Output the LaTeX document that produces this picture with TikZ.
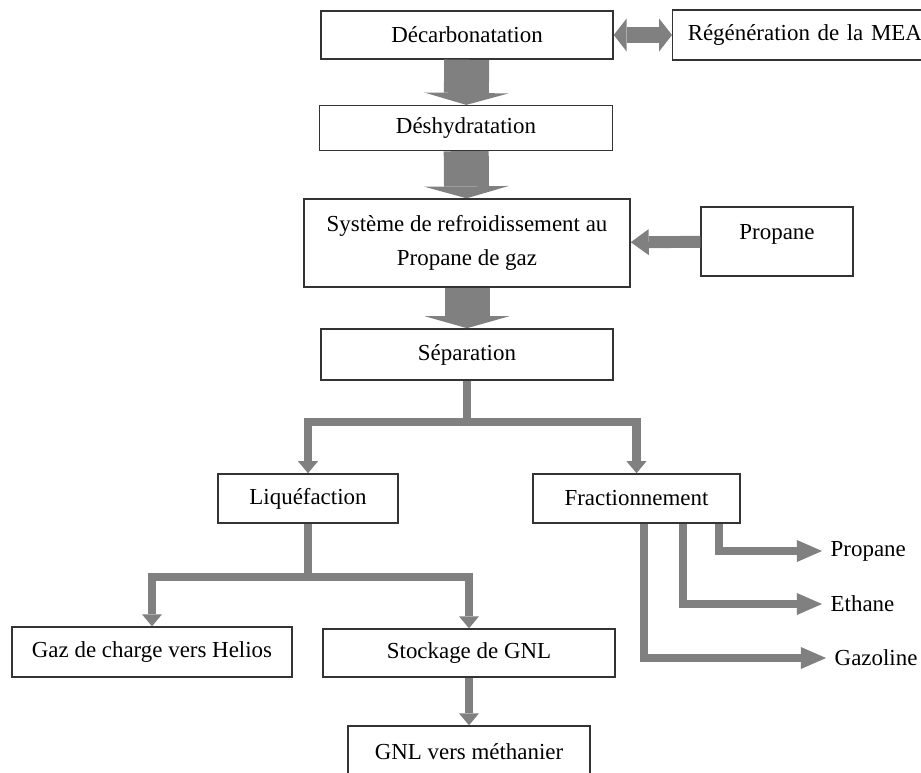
\documentclass[tikz,border=0pt]{standalone}
\usepackage{fontspec}
\setmainfont{Liberation Serif}
\usepackage{tikz}
\usetikzlibrary{calc, positioning, arrows.meta}
\usepackage{xcolor}
\definecolor{flowgray}{HTML}{808080}
\definecolor{boxline}{HTML}{333333}
\newcommand{\procfont}{\fontsize{16.3}{24}\selectfont}

\tikzset{
  procbox/.style={draw=boxline, line width=1pt, fill=white, inner sep=0pt, align=center, font=\procfont},
  outlabel/.style={anchor=west, inner xsep=6pt, inner ysep=0pt, font=\procfont},
  bigflow/.style={draw=flowgray, line width=32pt, -{Triangle[length=8.5pt, width=60pt, line width=0pt]}},
  duoflow/.style={draw=flowgray, line width=10.7pt, {Triangle[length=9.2pt, width=23.5pt, line width=0pt]}-{Triangle[length=9.2pt, width=23.5pt, line width=0pt]}},
  sideflow/.style={draw=flowgray, line width=8.5pt, -{Triangle[length=12.8pt, width=18.5pt, line width=0pt]}},
  branchflow/.style={draw=flowgray, line width=5.7pt, -{Triangle[length=8.5pt, width=14.2pt, line width=0pt]}},
  outflow/.style={draw=flowgray, line width=5.7pt, -{Triangle[length=17.8pt, width=15.6pt, line width=0pt]}}
}

\begin{document}
\begin{tikzpicture}[x=0.025cm, y=-0.025cm]
\useasboundingbox (0,0) rectangle (921,772);
\fill[white] (0,0) rectangle (921,772);
\clip (0,0) rectangle (921,772);

% Main column
\node[procbox, minimum width=7.3cm, minimum height=1.2cm] (decarb) at (467,35) {D\'ecarbonatation};
\node[procbox, anchor=west, align=left, text width=6.5cm, inner xsep=10.7pt, minimum height=1.25cm] (regen) at (672,35) {R\'eg\'en\'eration de la MEA};
\node[procbox, minimum width=7.33cm, minimum height=1.12cm] (deshyd) at (466,128) {D\'eshydratation};
\node[procbox, minimum width=8.15cm, minimum height=2.2cm] (refroid) at (467,243) {Syst\`eme de refroidissement au\\Propane de gaz};
\node[procbox, minimum width=3.8cm, minimum height=1.73cm, text height=11pt, text depth=13.7pt] (propane) at (777,241.5) {Propane};
\node[procbox, minimum width=7.3cm, minimum height=1.28cm] (separ) at (467,354.5) {S\'eparation};

% Second level
\node[procbox, minimum width=4.5cm, minimum height=1.23cm] (liquef) at (308,498.5) {Liqu\'efaction};
\node[procbox, minimum width=5.18cm, minimum height=1.23cm] (fraction) at (636.5,498.5) {Fractionnement};

% Third level
\node[procbox, minimum width=7cm, minimum height=1.25cm] (gazcharge) at (152,652) {Gaz de charge vers Helios};
\node[procbox, minimum width=7.3cm, minimum height=1.2cm] (stockage) at (469,653) {Stockage de GNL};
\node[procbox, minimum width=6.05cm, minimum height=1.3cm] (methanier) at (469,752) {GNL vers m\'ethanier};

% Fractionation products
\node[outlabel] (propout) at (822,551) {Propane};
\node[outlabel] (ethout) at (822,604) {Ethane};
\node[outlabel] (gazout) at (826,658) {Gazoline};

% Block arrows
\draw[bigflow] (decarb) -- (deshyd);
\draw[bigflow] (deshyd) -- (refroid);
\draw[bigflow] (refroid) -- (separ);
\draw[duoflow] (decarb.east) -- (regen.west);
\draw[sideflow] (propane) -- (refroid);

% Tree connectors
\draw[branchflow] (separ.south) -- ++(0,41) -| (liquef.north);
\draw[branchflow] (separ.south) -- ++(0,41) -| (fraction.north);
\draw[branchflow] (liquef.south) -- ++(0,53) -| (gazcharge.north);
\draw[branchflow] (liquef.south) -- ++(0,53) -| (stockage.north);
\draw[branchflow] (stockage) -- (methanier);

% Outputs of fractionation
\draw[outflow] ($(fraction.south)+(82.5,0)$) |- (propout.west);
\draw[outflow] ($(fraction.south)+(46.5,0)$) |- (ethout.west);
\draw[outflow] ($(fraction.south)+(7.5,0)$) |- (gazout.west);

\end{tikzpicture}
\end{document}
